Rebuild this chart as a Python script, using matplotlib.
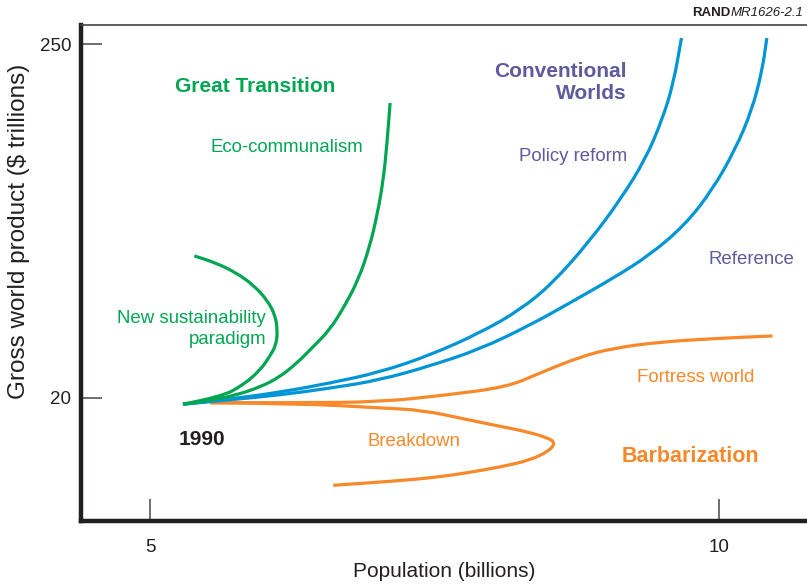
import matplotlib
matplotlib.use('Agg')
import matplotlib.pyplot as plt
from matplotlib.ticker import NullLocator
from matplotlib.path import Path
from matplotlib.patches import PathPatch

plt.rcParams['font.family'] = ['Liberation Sans', 'DejaVu Sans']

# population (billions) / gross world product ($ trillions)
eco_pop = [5.29, 5.55, 5.76, 5.97, 6.14, 6.29, 6.43, 6.58, 6.71, 6.83, 6.93, 7.00, 7.05, 7.08, 7.11]
eco_gwp = [19.1, 19.7, 20.4, 21.6, 23.2, 25.6, 28.7, 32.5, 38.5, 46.4, 58.7, 74.9, 94.8, 120.0, 164.3]

nsp_pop = [5.29, 5.62, 5.82, 5.97, 6.05, 6.11, 6.12, 6.10, 6.03, 5.91, 5.76, 5.58, 5.39]
nsp_gwp = [19.1, 20.1, 21.9, 24.4, 26.8, 29.2, 32.5, 36.1, 40.2, 44.7, 48.8, 52.4, 55.1]

policy_pop = [5.29, 5.70, 6.14, 6.58, 7.02, 7.46, 7.90, 8.25, 8.54, 8.87, 9.13, 9.35, 9.50, 9.60, 9.67]
policy_gwp = [19.1, 19.8, 20.8, 22.2, 24.0, 27.1, 31.8, 37.4, 45.4, 61.7, 82.1, 109.3, 145.5, 189.5, 261.4]

ref_pop = [5.29, 5.70, 6.14, 6.58, 7.02, 7.46, 7.90, 8.34, 8.69, 9.07, 9.39, 9.70, 9.94, 10.14, 10.29, 10.38, 10.42]
ref_gwp = [19.1, 19.7, 20.4, 21.4, 22.7, 25.1, 28.3, 33.6, 39.4, 47.0, 55.4, 68.7, 88.2, 117.4, 156.3, 208.0, 261.4]

fortress_pop = [5.53, 6.32, 7.02, 7.61, 8.14, 8.43, 8.78, 9.07, 9.48, 10.01, 10.47]
fortress_gwp = [19.3, 19.3, 19.4, 20.4, 21.6, 23.9, 26.8, 28.5, 29.8, 30.6, 31.1]

breakdown_pop = [5.53, 6.32, 7.02, 7.40, 7.79, 8.08, 8.31, 8.50, 8.56, 8.51, 8.34, 8.08, 7.79, 7.49, 7.11, 6.61]
breakdown_gwp = [19.3, 19.2, 18.6, 18.3, 17.1, 16.3, 15.7, 15.0, 14.5, 13.7, 12.8, 12.2, 11.7, 11.3, 11.0, 10.7]

x_ticks = [5, 10]
y_ticks = [20, 250]

green = '#00a651'
blue = '#0096d6'
orange = '#f7892a'
purple = '#5e5a9b'
dark = '#231f20'


def smooth_line(ax, xs, ys, color, lw=2.3):
    # quadratic bezier through midpoints, picked points used as control points
    # (geometric mean in y because the axis is logarithmic)
    verts = [(xs[0], ys[0])]
    codes = [Path.MOVETO]
    for i in range(1, len(xs) - 1):
        verts.append((xs[i], ys[i]))
        verts.append(((xs[i] + xs[i + 1]) / 2, (ys[i] * ys[i + 1]) ** 0.5))
        codes += [Path.CURVE3, Path.CURVE3]
    verts.append((xs[-1], ys[-1]))
    codes.append(Path.LINETO)
    patch = PathPatch(Path(verts, codes), facecolor='none', edgecolor=color,
                      lw=lw, capstyle='butt', joinstyle='round')
    ax.add_patch(patch)


fig = plt.figure(figsize=(8.07, 5.85), dpi=100)
ax = fig.add_axes([81 / 807, 1 - 521 / 585, 726 / 807, 496 / 585])
ax.set_yscale('log')

smooth_line(ax, fortress_pop, fortress_gwp, orange)
smooth_line(ax, breakdown_pop, breakdown_gwp, orange)
smooth_line(ax, ref_pop, ref_gwp, blue)
smooth_line(ax, policy_pop, policy_gwp, blue)
smooth_line(ax, nsp_pop, nsp_gwp, green)
smooth_line(ax, eco_pop, eco_gwp, green)

ax.set_xlim(4.394, 10.773)
ax.set_ylim(8.29, 286.9)
ax.set_xticks(x_ticks)
ax.set_xticklabels([str(t) for t in x_ticks])
ax.set_yticks(y_ticks)
ax.set_yticklabels([str(t) for t in y_ticks])
ax.yaxis.set_minor_locator(NullLocator())
ax.xaxis.set_minor_locator(NullLocator())

ax.tick_params(axis='both', direction='in', color='#555555', width=1.2, labelsize=13.5, labelcolor=dark)
ax.tick_params(axis='y', length=15, pad=7)
ax.tick_params(axis='x', length=16, pad=13)

ax.spines['right'].set_visible(False)
ax.spines['left'].set_linewidth(3.2)
ax.spines['bottom'].set_linewidth(3.2)
ax.spines['left'].set_color(dark)
ax.spines['bottom'].set_color(dark)
ax.spines['top'].set_linewidth(1.2)
ax.spines['top'].set_color('#444444')

ax.set_xlabel('Population (billions)', fontsize=15, color=dark, labelpad=4)
ax.set_ylabel('Gross world product ($ trillions)', fontsize=17.5, color=dark)
ax.yaxis.set_label_coords(-0.070, 0.583)

tr = ax.transAxes
ax.text(0.2397, 0.875, 'Great Transition', transform=tr, color=green, fontsize=15,
        fontweight='bold', ha='center', va='center')
ax.text(0.2837, 0.754, 'Eco-communalism', transform=tr, color=green, fontsize=13.4,
        ha='center', va='center')
ax.text(0.2548, 0.387, 'New sustainability\nparadigm', transform=tr, color=green, fontsize=13.4,
        ha='right', va='center', multialignment='right', linespacing=1.3)
ax.text(0.752, 0.884, 'Conventional\nWorlds', transform=tr, color=purple, fontsize=15,
        fontweight='bold', ha='right', va='center', multialignment='right', linespacing=1.2)
ax.text(0.752, 0.734, 'Policy reform', transform=tr, color=purple, fontsize=13.4,
        ha='right', va='center')
ax.text(0.865, 0.528, 'Reference', transform=tr, color=purple, fontsize=13.4,
        ha='left', va='center')
ax.text(0.766, 0.290, 'Fortress world', transform=tr, color=orange, fontsize=13.4,
        ha='left', va='center')
ax.text(0.745, 0.131, 'Barbarization', transform=tr, color=orange, fontsize=15.5,
        fontweight='bold', ha='left', va='center')
ax.text(0.395, 0.161, 'Breakdown', transform=tr, color=orange, fontsize=13.4,
        ha='left', va='center')
ax.text(0.135, 0.165, '1990', transform=tr, color=dark, fontsize=15,
        fontweight='bold', ha='left', va='center')

fig.text(730 / 807, 1 - 13 / 585, 'RAND', fontsize=9.5, fontweight='bold', color=dark,
         ha='right', va='center')
fig.text(731 / 807, 1 - 13 / 585, 'MR1626-2.1', fontsize=9.5, style='italic', color=dark,
         ha='left', va='center')

fig.savefig('out.png', dpi=100)
